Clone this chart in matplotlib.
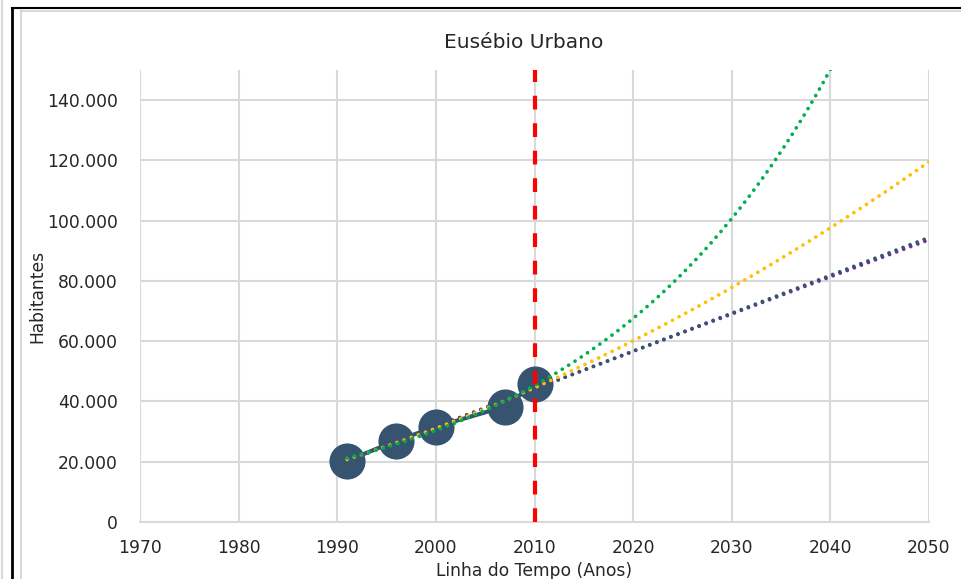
import matplotlib
matplotlib.use("Agg")
import matplotlib.pyplot as plt
from matplotlib.lines import Line2D
from matplotlib.ticker import FuncFormatter
import numpy as np

plt.rcParams['font.family'] = ['DejaVu Sans']

years = [1991, 1996, 2000, 2007, 2010]
population = [20300, 27000, 31600, 38300, 45800]
title = "Eusébio Urbano"
xlabel = "Linha do Tempo (Anos)"
ylabel = "Habitantes"
xticks = [1970, 1980, 1990, 2000, 2010, 2020, 2030, 2040, 2050]
yticks = [0, 20000, 40000, 60000, 80000, 100000, 120000, 140000]
marker_year = 2010
forecast_end = 2050

fig = plt.figure(figsize=(9.62, 5.79), dpi=100)
ax = fig.add_axes([140/962, 1-522/579, (929-140)/962, (522-70)/579])

x = np.array(years, dtype=float)
y = np.array(population, dtype=float)
xf = np.linspace(years[0], forecast_end, 400)

# Trendlines (fits of the data, as in the original spreadsheet)
lin = np.polyval(np.polyfit(x, y, 1), xf)
logt = np.polyval(np.polyfit(np.log(x), y, 1), np.log(xf))
quad = np.polyval(np.polyfit(x, y, 2), xf)
b, a = np.polyfit(x, np.log(y), 1)
expo = np.exp(a + b*xf)

dot = (0, (0.01, 2.0))
kw = dict(lw=2.7, ls=dot, dash_capstyle='round')
ax.plot(xf, logt, color='#7030A0', zorder=4, **kw)
ax.plot(xf, lin, color='#36546F', zorder=4.5, **kw)
ax.plot(xf, quad, color='#FFC000', zorder=5, **kw)
ax.plot(xf, expo, color='#00B050', zorder=6, **kw)

ax.plot(years, population, color='#36546F', lw=3, marker='o', ms=26,
        markeredgewidth=0, zorder=3)

ax.axvline(marker_year, color='#FF0000', lw=3, ls=(0, (3.3, 3.3)), zorder=7)

ax.set_xlim(1970, forecast_end)
ax.set_ylim(0, 150000)
ax.set_xticks(xticks)
ax.set_yticks(yticks)
ax.yaxis.set_major_formatter(FuncFormatter(lambda v, p: f"{int(v):,}".replace(",", ".")))
ax.grid(True, color='#D9D9D9', lw=1.5, zorder=0)
ax.set_axisbelow(True)
for s in ['top', 'right', 'left']:
    ax.spines[s].set_visible(False)
ax.spines['bottom'].set_color('#D9D9D9')
ax.spines['bottom'].set_linewidth(1.5)
ax.tick_params(length=0, labelsize=12.3, colors='#262626')
ax.tick_params(axis='y', pad=16)
ax.tick_params(axis='x', pad=12)

fig.text(524/962, 1-43/579, title, ha='center', va='center', fontsize=14.5, color='#262626')
fig.text(534/962, 1-571/579, xlabel, ha='center', va='center', fontsize=12.3, color='#262626')
fig.text(37/962, 1-296/579, ylabel, ha='center', va='center', rotation=90, fontsize=12.3, color='#262626')

# frame decorations
fig.add_artist(Line2D([2/962, 2/962], [0, 1], transform=fig.transFigure, color='#D9D9D9', lw=1.5))
fig.add_artist(Line2D([12/962, 12/962], [0, 1-8/579], transform=fig.transFigure, color='black', lw=2))
fig.add_artist(Line2D([12/962, 1], [1-8/579, 1-8/579], transform=fig.transFigure, color='black', lw=1.5))
fig.add_artist(Line2D([20.5/962, 20.5/962], [0, 1-10/579], transform=fig.transFigure, color='#D9D9D9', lw=1.5))
fig.add_artist(Line2D([20.5/962, 1], [1-10.5/579, 1-10.5/579], transform=fig.transFigure, color='#D9D9D9', lw=1.5))

fig.savefig('out.png', dpi=100)
